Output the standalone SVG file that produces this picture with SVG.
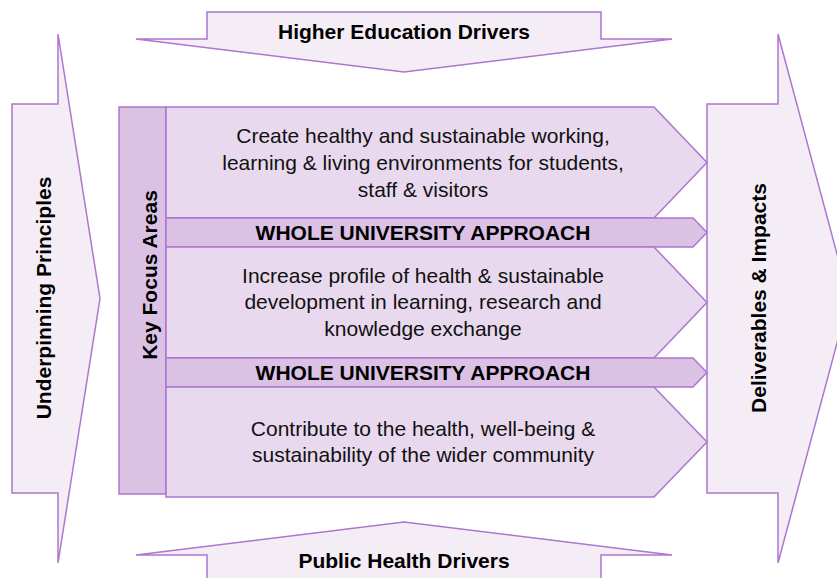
<svg xmlns="http://www.w3.org/2000/svg" width="837" height="578" viewBox="0 0 837 578">
<style>
.big{fill:#F4EDF6;stroke:#AE76CE;stroke-width:1.5;stroke-linejoin:miter}
.row{fill:#E8D9EE;stroke:#AE76CE;stroke-width:1.5}
.band{fill:#DBC1E4;stroke:#AE76CE;stroke-width:1.5}
.b{font-family:"Liberation Sans",Arial,sans-serif;font-weight:bold;font-size:21px;fill:#000;text-anchor:middle}
.t{font-family:"Liberation Sans",Arial,sans-serif;font-size:21px;fill:#111;text-anchor:middle}
</style>
<rect width="837" height="578" fill="#fff"/>
<g id="higher-education-drivers">
<polygon class="big" points="207,12 601,12 601,39 672,39 404,72 136,39 207,39"/>
<text class="b" x="404" y="39">Higher Education Drivers</text>
</g>
<g id="public-health-drivers">
<polygon class="big" points="404,522 672,555 601,555 601,590 207,590 207,555 136,555"/>
<text class="b" x="404" y="568">Public Health Drivers</text>
</g>
<g id="underpinning-principles">
<polygon class="big" points="12,104 58,104 58,34 100,298.5 58,563 58,493 12,493"/>
<text class="b" transform="translate(51,298) rotate(-90)">Underpinning Principles</text>
</g>
<g id="deliverables-impacts">
<polygon class="big" points="707,104 778,104 778,34 849,298.5 778,563 778,493 707,493"/>
<text class="b" transform="translate(766,298) rotate(-90)">Deliverables &amp; Impacts</text>
</g>
<g id="key-focus-areas">
<rect class="band" x="119" y="107" width="47" height="387"/>
<text class="b" transform="translate(157,275) rotate(-90)">Key Focus Areas</text>
</g>
<g id="area-1">
<polygon class="row" points="166,107 654,107 707,162.5 654,218 166,218"/>
<text class="t" x="423" y="143">Create healthy and sustainable working,</text>
<text class="t" x="423" y="169.5">learning &amp; living environments for students,</text>
<text class="t" x="423" y="196.5">staff &amp; visitors</text>
</g>
<g id="approach-1">
<polygon class="band" points="166,218 693,218 707,232.5 693,247 166,247"/>
<text class="b" x="423" y="240">WHOLE UNIVERSITY APPROACH</text>
</g>
<g id="area-2">
<polygon class="row" points="166,247 654,247 707,302.5 654,358 166,358"/>
<text class="t" x="423" y="282.5">Increase profile of health &amp; sustainable</text>
<text class="t" x="423" y="309.3">development in learning, research and</text>
<text class="t" x="423" y="336">knowledge exchange</text>
</g>
<g id="approach-2">
<polygon class="band" points="166,358 693,358 707,372.5 693,387 166,387"/>
<text class="b" x="423" y="380">WHOLE UNIVERSITY APPROACH</text>
</g>
<g id="area-3">
<polygon class="row" points="166,387 654,387 707,442 654,497 166,497"/>
<text class="t" x="423" y="435.5">Contribute to the health, well-being &amp;</text>
<text class="t" x="423" y="462">sustainability of the wider community</text>
</g>
<g id="connectors"></g>
</svg>
